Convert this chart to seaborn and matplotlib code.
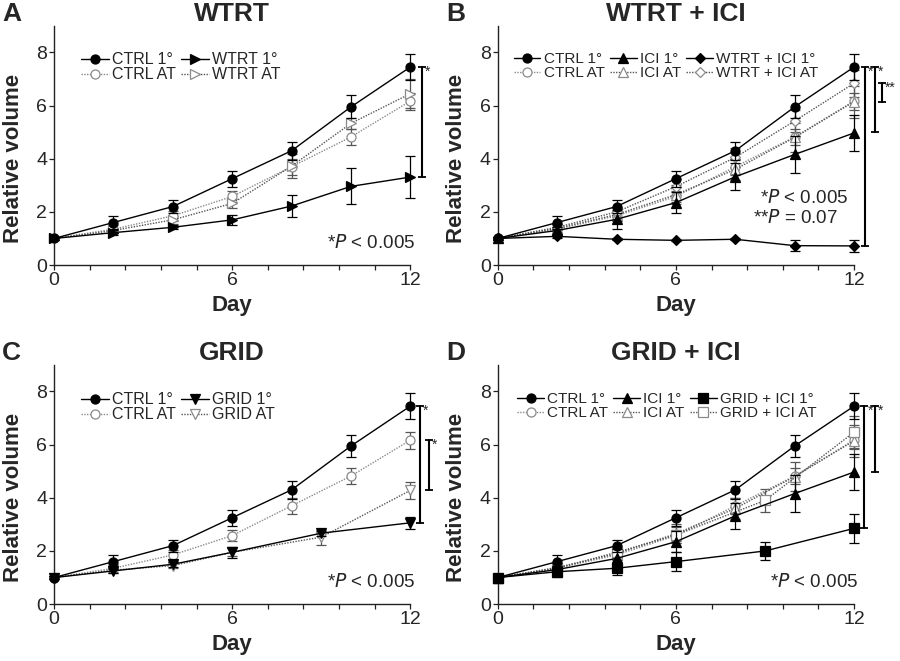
import matplotlib
matplotlib.use("Agg")
import matplotlib.pyplot as plt
import seaborn as sns
import numpy as np

sns.set_style("ticks")
plt.rcParams["font.family"] = ["Liberation Sans", "DejaVu Sans"]

# days of measurement
days = [0, 2, 4, 6, 8, 10, 12]
days_grid = [0, 2, 4, 6, 9, 12]

# mean relative volume and error
ctrl_1 = [1.0, 1.6, 2.2, 3.25, 4.3, 5.95, 7.45]
ctrl_1_err = [0.05, 0.25, 0.23, 0.3, 0.33, 0.43, 0.48]
ctrl_at = [1.0, 1.35, 1.85, 2.58, 3.7, 4.82, 6.17]
ctrl_at_err = [0.05, 0.15, 0.2, 0.2, 0.3, 0.3, 0.32]

wtrt_1 = [1.0, 1.22, 1.42, 1.7, 2.22, 2.96, 3.31]
wtrt_1_err = [0.05, 0.08, 0.08, 0.2, 0.43, 0.68, 0.8]
wtrt_at = [1.0, 1.3, 1.7, 2.32, 3.72, 5.33, 6.45]
wtrt_at_err = [0.05, 0.1, 0.15, 0.18, 0.45, 0.2, 0.55]

ici_1 = [1.0, 1.3, 1.72, 2.35, 3.32, 4.16, 4.97]
ici_1_err = [0.05, 0.15, 0.35, 0.4, 0.5, 0.7, 0.68]
ici_at = [1.0, 1.38, 1.9, 2.65, 3.6, 4.8, 6.15]
ici_at_err = [0.05, 0.15, 0.25, 0.35, 0.4, 0.55, 0.6]

wici_1 = [1.0, 1.08, 0.97, 0.93, 0.97, 0.73, 0.72]
wici_1_err = [0.0, 0.05, 0.03, 0.03, 0.03, 0.2, 0.23]
wici_at = [1.0, 1.42, 2.0, 2.95, 4.05, 5.42, 6.84]
wici_at_err = [0.05, 0.12, 0.2, 0.3, 0.35, 0.4, 0.5]

grid_1 = [1.0, 1.25, 1.5, 1.95, 2.67, 3.06]
grid_1_err = [0.05, 0.08, 0.1, 0.2, 0.1, 0.22]
grid_at = [1.0, 1.28, 1.45, 1.95, 2.52, 4.28]
grid_at_err = [0.05, 0.1, 0.1, 0.15, 0.28, 0.33]

gici_1 = [1.0, 1.22, 1.35, 1.6, 2.0, 2.85]
gici_1_err = [0.05, 0.2, 0.25, 0.35, 0.35, 0.55]
gici_at = [1.0, 1.35, 1.95, 2.6, 3.9, 6.47]
gici_at_err = [0.05, 0.15, 0.2, 0.3, 0.45, 0.6]

# significance brackets: (x, low, high, label)
brackets_a = [(12.38, 3.31, 7.45, "*")]
brackets_b = [(12.37, 0.72, 7.45, "*"), (12.71, 5.0, 7.45, "*"), (12.94, 6.15, 6.84, "**")]
brackets_c = [(12.33, 3.06, 7.45, "*"), (12.63, 4.28, 6.17, "*")]
brackets_d = [(12.35, 2.85, 7.45, "*"), (12.71, 4.97, 7.45, "*")]

BLACK = "black"
GREY = "#8a8a8a"
DGREY = "#555555"


def draw_series(ax, x, y, err, label, marker, filled, line_color, ms=6.5):
    if filled:
        ls, mfc, mec, ecol, z = "-", BLACK, BLACK, BLACK, 4
    else:
        ls, mfc, mec, ecol, z = (0, (1, 1)), "white", GREY, DGREY, 3
    ax.errorbar(x, y, yerr=err, fmt="none", ecolor=ecol, elinewidth=0.9,
                capsize=3.5, capthick=0.9, clip_on=False, zorder=z - 1)
    sns.lineplot(x=x, y=y, ax=ax, color=line_color, linestyle=ls, linewidth=1.0,
                 marker=marker, markersize=ms, markerfacecolor=mfc,
                 markeredgecolor=mec, markeredgewidth=0.9, label=label,
                 clip_on=False, zorder=z, errorbar=None)


def style_axes(ax, title, letter):
    ax.set_xlim(0, 12)
    ax.set_ylim(0, 9)
    ax.set_xticks([0, 6, 12])
    ax.set_xticks(np.arange(0, 12.01, 1.2), minor=True)
    ax.set_yticks([0, 2, 4, 6, 8])
    ax.tick_params(axis="both", which="both", direction="out", length=3.5,
                   width=0.9, labelsize=14, pad=1.5, color="#222222")
    for s in ["top", "right"]:
        ax.spines[s].set_visible(False)
    for s in ["left", "bottom"]:
        ax.spines[s].set_linewidth(1.0)
        ax.spines[s].set_color("#222222")
    ax.set_xlabel("Day", fontsize=16, fontweight="bold")
    ax.set_ylabel("Relative volume", fontsize=16, fontweight="bold")
    ax.xaxis.set_label_coords(0.5, -0.125)
    ax.yaxis.set_label_coords(-0.085, 0.445)
    ax.set_title(title, fontsize=19, fontweight="bold", pad=2)
    ax.text(-0.145, 1.0, letter, transform=ax.transAxes, fontsize=19,
            fontweight="bold", va="bottom", ha="left")


def add_legend(ax, ncol, x, y, fs):
    h, l = ax.get_legend_handles_labels()
    # series were drawn AT first, then 1°; show 1° on the top row
    n = len(h) // 2
    order = []
    for i in range(n):
        order += [n + i, i]
    ax.legend([h[i] for i in order], [l[i] for i in order], ncol=ncol,
              loc="upper left", bbox_to_anchor=(x, y), frameon=False,
              fontsize=fs, handlelength=1.75, handletextpad=0.2,
              columnspacing=0.35, labelspacing=0.0, borderpad=0,
              borderaxespad=0)


def draw_brackets(ax, brackets):
    for x, lo, hi, lab in brackets:
        ax.plot([x, x], [lo, hi], color=BLACK, linewidth=1.5, marker="_",
                markersize=6, markeredgewidth=1.3, clip_on=False)
        ax.text(x + 0.1, hi + 0.1, lab, fontsize=10, ha="left", va="top")


fig = plt.figure(figsize=(9, 6.61), dpi=100)
W, H = 0.396, 0.362
ax_a = fig.add_axes([0.060, 0.599, W, H])
ax_b = fig.add_axes([0.553, 0.599, W, H])
ax_c = fig.add_axes([0.060, 0.086, W, H])
ax_d = fig.add_axes([0.553, 0.086, W, H])

# A: WTRT
draw_series(ax_a, days, ctrl_at, ctrl_at_err, "CTRL AT", "o", False, GREY)
draw_series(ax_a, days, wtrt_at, wtrt_at_err, "WTRT AT", ">", False, DGREY)
draw_series(ax_a, days, ctrl_1, ctrl_1_err, "CTRL 1°", "o", True, BLACK)
draw_series(ax_a, days, wtrt_1, wtrt_1_err, "WTRT 1°", ">", True, BLACK)
style_axes(ax_a, "WTRT", "A")
add_legend(ax_a, 2, 0.075, 0.89, 11.5)
draw_brackets(ax_a, brackets_a)
ax_a.text(12.15, 0.65, r"*$\it{P}$ < 0.005", fontsize=13.5, ha="right", va="baseline")

# B: WTRT + ICI
draw_series(ax_b, days, ctrl_at, ctrl_at_err, "CTRL AT", "o", False, GREY)
draw_series(ax_b, days, ici_at, ici_at_err, "ICI AT", "^", False, DGREY)
draw_series(ax_b, days, wici_at, wici_at_err, "WTRT + ICI AT", "D", False, DGREY, ms=5)
draw_series(ax_b, days, ctrl_1, ctrl_1_err, "CTRL 1°", "o", True, BLACK)
draw_series(ax_b, days, ici_1, ici_1_err, "ICI 1°", "^", True, BLACK)
draw_series(ax_b, days, wici_1, wici_1_err, "WTRT + ICI 1°", "D", True, BLACK, ms=5)
style_axes(ax_b, "WTRT + ICI", "B")
add_legend(ax_b, 3, 0.045, 0.89, 11)
draw_brackets(ax_b, brackets_b)
ax_b.text(11.8, 2.34, r"*$\it{P}$ < 0.005", fontsize=13.5, ha="right", va="baseline")
ax_b.text(11.45, 1.58, r"**$\it{P}$ = 0.07", fontsize=13.5, ha="right", va="baseline")

# C: GRID
draw_series(ax_c, days, ctrl_at, ctrl_at_err, "CTRL AT", "o", False, GREY)
draw_series(ax_c, days_grid, grid_at, grid_at_err, "GRID AT", "v", False, DGREY)
draw_series(ax_c, days, ctrl_1, ctrl_1_err, "CTRL 1°", "o", True, BLACK)
draw_series(ax_c, days_grid, grid_1, grid_1_err, "GRID 1°", "v", True, BLACK)
style_axes(ax_c, "GRID", "C")
add_legend(ax_c, 2, 0.075, 0.885, 11.5)
draw_brackets(ax_c, brackets_c)
ax_c.text(12.15, 0.65, r"*$\it{P}$ < 0.005", fontsize=13.5, ha="right", va="baseline")

# D: GRID + ICI
draw_series(ax_d, days, ctrl_at, ctrl_at_err, "CTRL AT", "o", False, GREY)
draw_series(ax_d, days, ici_at, ici_at_err, "ICI AT", "^", False, DGREY)
draw_series(ax_d, days_grid, gici_at, gici_at_err, "GRID + ICI AT", "s", False, DGREY)
draw_series(ax_d, days, ctrl_1, ctrl_1_err, "CTRL 1°", "o", True, BLACK)
draw_series(ax_d, days, ici_1, ici_1_err, "ICI 1°", "^", True, BLACK)
draw_series(ax_d, days_grid, gici_1, gici_1_err, "GRID + ICI 1°", "s", True, BLACK)
style_axes(ax_d, "GRID + ICI", "D")
add_legend(ax_d, 3, 0.055, 0.885, 11)
draw_brackets(ax_d, brackets_d)
ax_d.text(12.15, 0.65, r"*$\it{P}$ < 0.005", fontsize=13.5, ha="right", va="baseline")

fig.savefig("out.png", dpi=100)
